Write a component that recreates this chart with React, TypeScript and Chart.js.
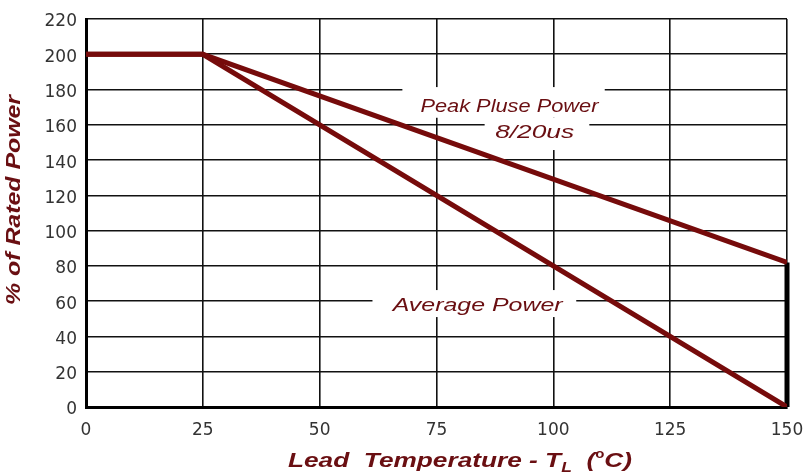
import React, { useEffect, useRef } from "react";
import { Chart, registerables } from "chart.js";

Chart.register(...registerables);

// ---- data ----
const leadTemps = [0, 25, 150];
const peakPulsePower = [200, 200, 82];
const averagePower = [200, 200, 0];
const edgeTemps = [150, 150];
const edgeValues = [0, 82];
const xTickStep = 25;
const yTickStep = 20;

const LINE_COLOR = "#760b0b";
const TEXT_COLOR = "#6a0f12";

function drawStretched(ctx: CanvasRenderingContext2D, text: string, cx: number, cy: number, targetW: number, font: string) {
  ctx.save();
  ctx.font = font;
  const w = ctx.measureText(text).width;
  const s = targetW / w;
  ctx.translate(cx, cy);
  ctx.scale(s, 1);
  ctx.textAlign = "center";
  ctx.textBaseline = "middle";
  ctx.fillText(text, 0, 0);
  ctx.restore();
}

const annotPlugin = {
  id: "annot",
  beforeDatasetsDraw(chart: any) {
    const ctx: CanvasRenderingContext2D = chart.ctx;
    const xs = chart.scales.x;
    const ys = chart.scales.y;
    const rect = (x1: number, x2: number, y1: number, y2: number) => {
      const px1 = xs.getPixelForValue(x1);
      const px2 = xs.getPixelForValue(x2);
      const py1 = ys.getPixelForValue(y1);
      const py2 = ys.getPixelForValue(y2);
      ctx.fillRect(px1, py1, px2 - px1, py2 - py1);
    };
    ctx.save();
    ctx.fillStyle = "#ffffff";
    rect(67.7, 111.0, 181.4, 164.0);
    rect(85.3, 107.7, 164.0, 145.7);
    rect(61.3, 104.9, 66.3, 51.0);
    ctx.fillStyle = TEXT_COLOR;
    const f = "italic 19px 'Liberation Sans', Arial, sans-serif";
    drawStretched(ctx, "Peak Pluse Power", xs.getPixelForValue(90.6), ys.getPixelForValue(170.5), 178, f);
    drawStretched(ctx, "8/20us", xs.getPixelForValue(96.0), ys.getPixelForValue(155.4), 79, f);
    drawStretched(ctx, "Average Power", xs.getPixelForValue(83.8), ys.getPixelForValue(57.3), 170, f);
    ctx.restore();
  },
  afterDraw(chart: any) {
    const ctx: CanvasRenderingContext2D = chart.ctx;
    ctx.save();
    ctx.fillStyle = TEXT_COLOR;
    // y title
    ctx.save();
    ctx.translate(14, 200);
    ctx.rotate(-Math.PI / 2);
    ctx.font = "bold italic 20px 'Liberation Sans', Arial, sans-serif";
    const yt = "% of Rated Power";
    const yw = ctx.measureText(yt).width;
    ctx.scale(210 / yw, 1);
    ctx.textAlign = "center";
    ctx.textBaseline = "middle";
    ctx.fillText(yt, 0, 0);
    ctx.restore();

    // x title with subscript / superscript
    const main = "bold italic 21px 'Liberation Sans', Arial, sans-serif";
    const small = "bold italic 14px 'Liberation Sans', Arial, sans-serif";
    const sup = "bold 12px 'Liberation Sans', Arial, sans-serif";
    const parts: [string, string, number][] = [
      ["Lead  Temperature - T", main, 0],
      ["L", small, 5],
      ["  (", main, 0],
      ["o", sup, -9],
      ["C)", main, 0],
    ];
    let total = 0;
    for (const [t, fo] of parts) {
      ctx.font = fo;
      total += ctx.measureText(t).width;
    }
    const s = 344 / total;
    ctx.save();
    ctx.translate(288, 467);
    ctx.scale(s, 1);
    ctx.textAlign = "left";
    ctx.textBaseline = "alphabetic";
    let x = 0;
    for (const [t, fo, dy] of parts) {
      ctx.font = fo;
      ctx.fillText(t, x, dy);
      x += ctx.measureText(t).width;
    }
    ctx.restore();
    ctx.restore();
  },
};

export default function App() {
  const ref = useRef<HTMLCanvasElement>(null);
  useEffect(() => {
    if (!ref.current) return;
    const tickFont = { family: "'DejaVu Sans', Verdana, sans-serif", size: 17 };
    const chart = new Chart(ref.current, {
      type: "line",
      data: {
        datasets: [
          {
            label: "Average Power",
            data: leadTemps.map((t, i) => ({ x: t, y: averagePower[i] })),
            borderColor: LINE_COLOR,
            borderWidth: 5,
            pointRadius: 0,
            tension: 0,
          },
          {
            label: "Peak Pluse Power 8/20us",
            data: leadTemps.map((t, i) => ({ x: t, y: peakPulsePower[i] })),
            borderColor: LINE_COLOR,
            borderWidth: 5,
            pointRadius: 0,
            tension: 0,
          },
          {
            label: "edge",
            data: edgeTemps.map((t, i) => ({ x: t, y: edgeValues[i] })),
            borderColor: "#000000",
            borderWidth: 5,
            pointRadius: 0,
            tension: 0,
            clip: false,
          } as any,
        ],
      },
      options: {
        animation: false,
        responsive: false,
        maintainAspectRatio: false,
        layout: { padding: { top: 19, right: 22, left: 0, bottom: 0 } },
        plugins: { legend: { display: false }, tooltip: { enabled: false } },
        scales: {
          x: {
            type: "linear",
            min: 0,
            max: 150,
            ticks: { stepSize: xTickStep, font: tickFont, color: "#333333", padding: 13 },
            grid: { color: "#111111", lineWidth: 1.6, drawTicks: false },
            border: { color: "#000000", width: 3 },
            afterFit(s: any) {
              s.height = 66;
              s.paddingLeft = 0;
              s.paddingRight = 0;
            },
          },
          y: {
            type: "linear",
            min: 0,
            max: 220,
            ticks: { stepSize: yTickStep, font: tickFont, color: "#333333", padding: 9, labelOffset: 3 },
            grid: { color: "#111111", lineWidth: 1.6, drawTicks: false },
            border: { color: "#000000", width: 3 },
            afterFit(s: any) {
              s.width = 86;
              s.paddingTop = 0;
              s.paddingBottom = 0;
            },
          },
        },
      },
      plugins: [annotPlugin],
    });
    return () => chart.destroy();
  }, []);
  return (
    <div style={{ position: "fixed", left: 0, top: 0, width: 809, height: 473, background: "#fff" }}>
      <canvas ref={ref} width={809} height={473} />
    </div>
  );
}
